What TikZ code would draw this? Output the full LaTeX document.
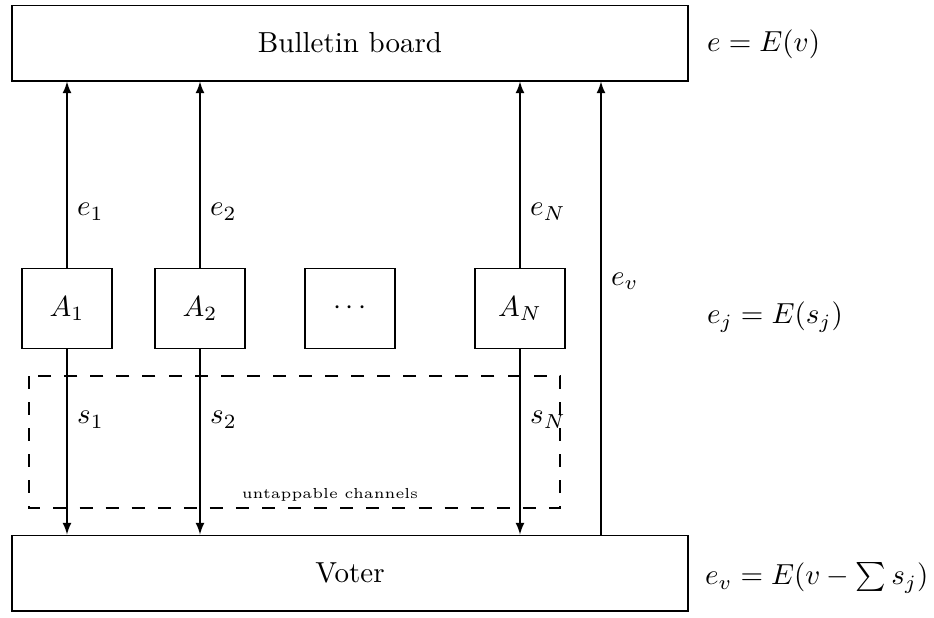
\documentclass[tikz,border=0pt]{standalone}
\usetikzlibrary{positioning,calc,arrows.meta}
\begin{document}
\begin{tikzpicture}[x=0.01213cm, y=-0.01213cm,
  party/.style={draw, minimum width=1.09cm, minimum height=0.98cm},
  wide/.style={draw, minimum width=8.2cm, minimum height=0.92cm}]
  \useasboundingbox (0,0) rectangle (934,618);
  % Bulletin board and voter
  \node[wide] (board) at (350,43) {Bulletin board};
  \node[wide] (voter) at (350,573) {Voter};
  % Authorities
  \node[party] (A1) at (67,308.5) {$A_1$};
  \node[party] (A2) at (200,308.5) {$A_2$};
  \node[party] (Adots) at (350,308.5) {$\cdots$};
  \node[party] (AN) at (520,308.5) {$A_N$};
  % Untappable channels
  \draw[dash pattern=on 4.5pt off 4.5pt] (29,376) rectangle (560,508);
  \node[font=\tiny] (chan) at (330,495) {untappable channels};
  % Encrypted shares to the board
  \draw[-latex] (A1.north) -- (A1.north |- board.south) node[pos=0.3, right] {$e_1$};
  \draw[-latex] (A2.north) -- (A2.north |- board.south) node[pos=0.3, right] {$e_2$};
  \draw[-latex] (AN.north) -- (AN.north |- board.south) node[pos=0.3, right] {$e_N$};
  % Shares to the voter
  \draw[-latex] (A1.south) -- (A1.south |- voter.north) node[pos=0.38, right] {$s_1$};
  \draw[-latex] (A2.south) -- (A2.south |- voter.north) node[pos=0.38, right] {$s_2$};
  \draw[-latex] (AN.south) -- (AN.south |- voter.north) node[pos=0.38, right] {$s_N$};
  % Voter's ballot
  \coordinate (evfoot) at (601,535);
  \draw[-latex] (evfoot) -- (evfoot |- board.south) node[pos=0.56, right] {$e_v$};
  % Equations
  \node[anchor=west] (eqboard) at (697,44) {$e = E(v)$};
  \node[anchor=west] (eqparty) at (697,317) {$e_j = E(s_j)$};
  \node[anchor=west] (eqvoter) at (695,578) {$e_v = E(v - \sum s_j)$};
\end{tikzpicture}
\end{document}
